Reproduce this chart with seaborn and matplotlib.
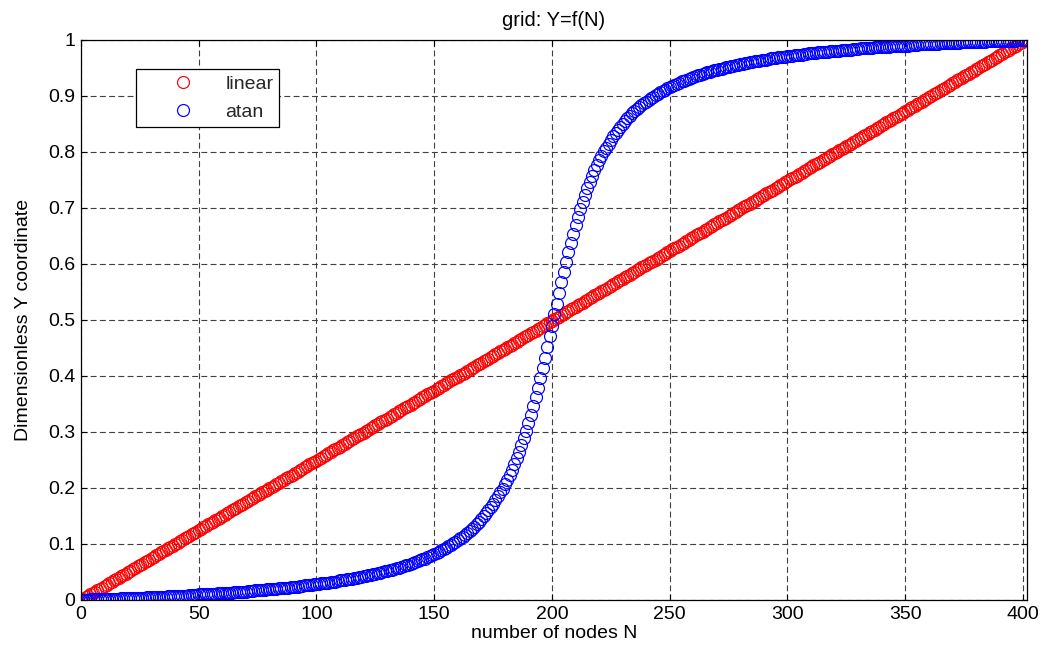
import numpy as np
import matplotlib
matplotlib.use("Agg")
import matplotlib.pyplot as plt
import seaborn as sns

# Dimensionless Y coordinate of each grid node, in thousandths (node index N = 0 .. 401)
linear_y_milli = [
    0, 2, 5, 7, 10, 12, 15, 17, 20, 22, 25, 27, 30, 32, 35, 37, 40, 42, 45, 47,
    50, 52, 55, 57, 60, 62, 65, 67, 70, 72, 75, 77, 80, 82, 85, 87, 90, 92, 95, 97,
    100, 102, 105, 107, 110, 112, 115, 117, 120, 122, 125, 127, 130, 132, 135, 137, 140, 142, 145, 147,
    150, 152, 155, 157, 160, 162, 165, 167, 170, 172, 175, 177, 180, 182, 185, 187, 190, 192, 195, 197,
    200, 202, 204, 207, 209, 212, 214, 217, 219, 222, 224, 227, 229, 232, 234, 237, 239, 242, 244, 247,
    249, 252, 254, 257, 259, 262, 264, 267, 269, 272, 274, 277, 279, 282, 284, 287, 289, 292, 294, 297,
    299, 302, 304, 307, 309, 312, 314, 317, 319, 322, 324, 327, 329, 332, 334, 337, 339, 342, 344, 347,
    349, 352, 354, 357, 359, 362, 364, 367, 369, 372, 374, 377, 379, 382, 384, 387, 389, 392, 394, 397,
    399, 401, 404, 406, 409, 411, 414, 416, 419, 421, 424, 426, 429, 431, 434, 436, 439, 441, 444, 446,
    449, 451, 454, 456, 459, 461, 464, 466, 469, 471, 474, 476, 479, 481, 484, 486, 489, 491, 494, 496,
    499, 501, 504, 506, 509, 511, 514, 516, 519, 521, 524, 526, 529, 531, 534, 536, 539, 541, 544, 546,
    549, 551, 554, 556, 559, 561, 564, 566, 569, 571, 574, 576, 579, 581, 584, 586, 589, 591, 594, 596,
    599, 601, 603, 606, 608, 611, 613, 616, 618, 621, 623, 626, 628, 631, 633, 636, 638, 641, 643, 646,
    648, 651, 653, 656, 658, 661, 663, 666, 668, 671, 673, 676, 678, 681, 683, 686, 688, 691, 693, 696,
    698, 701, 703, 706, 708, 711, 713, 716, 718, 721, 723, 726, 728, 731, 733, 736, 738, 741, 743, 746,
    748, 751, 753, 756, 758, 761, 763, 766, 768, 771, 773, 776, 778, 781, 783, 786, 788, 791, 793, 796,
    798, 800, 803, 805, 808, 810, 813, 815, 818, 820, 823, 825, 828, 830, 833, 835, 838, 840, 843, 845,
    848, 850, 853, 855, 858, 860, 863, 865, 868, 870, 873, 875, 878, 880, 883, 885, 888, 890, 893, 895,
    898, 900, 903, 905, 908, 910, 913, 915, 918, 920, 923, 925, 928, 930, 933, 935, 938, 940, 943, 945,
    948, 950, 953, 955, 958, 960, 963, 965, 968, 970, 973, 975, 978, 980, 983, 985, 988, 990, 993, 995,
    998, 1000,
]

atan_y_milli = [
    0, 0, 0, 0, 1, 1, 1, 1, 1, 1, 2, 2, 2, 2, 2, 2, 2, 3, 3, 3,
    3, 3, 4, 4, 4, 4, 4, 4, 5, 5, 5, 5, 5, 6, 6, 6, 6, 7, 7, 7,
    7, 7, 8, 8, 8, 8, 9, 9, 9, 9, 10, 10, 10, 10, 11, 11, 11, 11, 12, 12,
    12, 13, 13, 13, 13, 14, 14, 14, 15, 15, 15, 16, 16, 16, 17, 17, 17, 18, 18, 19,
    19, 19, 20, 20, 21, 21, 21, 22, 22, 23, 23, 24, 24, 25, 25, 26, 26, 27, 27, 28,
    28, 29, 30, 30, 31, 31, 32, 33, 33, 34, 35, 35, 36, 37, 37, 38, 39, 40, 41, 41,
    42, 43, 44, 45, 46, 47, 48, 49, 50, 51, 52, 53, 54, 55, 57, 58, 59, 61, 62, 63,
    65, 66, 68, 69, 71, 73, 74, 76, 78, 80, 82, 84, 86, 89, 91, 93, 96, 98, 101, 104,
    107, 110, 113, 116, 120, 124, 127, 131, 136, 140, 145, 150, 155, 160, 166, 172, 178, 185, 192, 199,
    207, 215, 224, 233, 243, 254, 265, 277, 289, 302, 316, 331, 346, 362, 379, 396, 414, 433, 452, 471,
    490, 510, 529, 548, 567, 586, 604, 621, 638, 654, 669, 684, 698, 711, 723, 735, 746, 757, 767, 776,
    785, 793, 801, 808, 815, 822, 828, 834, 840, 845, 850, 855, 860, 864, 869, 873, 876, 880, 884, 887,
    890, 893, 896, 899, 902, 904, 907, 909, 911, 914, 916, 918, 920, 922, 924, 926, 927, 929, 931, 932,
    934, 935, 937, 938, 939, 941, 942, 943, 945, 946, 947, 948, 949, 950, 951, 952, 953, 954, 955, 956,
    957, 958, 959, 959, 960, 961, 962, 963, 963, 964, 965, 965, 966, 967, 967, 968, 969, 969, 970, 970,
    971, 972, 972, 973, 973, 974, 974, 975, 975, 976, 976, 977, 977, 978, 978, 979, 979, 979, 980, 980,
    981, 981, 981, 982, 982, 983, 983, 983, 984, 984, 984, 985, 985, 985, 986, 986, 986, 987, 987, 987,
    987, 988, 988, 988, 989, 989, 989, 989, 990, 990, 990, 990, 991, 991, 991, 991, 992, 992, 992, 992,
    993, 993, 993, 993, 993, 994, 994, 994, 994, 995, 995, 995, 995, 995, 996, 996, 996, 996, 996, 996,
    997, 997, 997, 997, 997, 998, 998, 998, 998, 998, 998, 998, 999, 999, 999, 999, 999, 999, 1000, 1000,
    1000, 1000,
]

series_names = ["linear", "atan"]
series_colors = ["red", "blue"]
x_ticks = [0, 50, 100, 150, 200, 250, 300, 350, 400]
y_ticks = [0, 0.1, 0.2, 0.3, 0.4, 0.5, 0.6, 0.7, 0.8, 0.9, 1]
y_tick_labels = ["0", "0.1", "0.2", "0.3", "0.4", "0.5", "0.6", "0.7", "0.8", "0.9", "1"]

linear_y = np.array(linear_y_milli) / 1000.0
atan_y = np.array(atan_y_milli) / 1000.0
nodes = np.arange(len(linear_y))

sns.set_style("ticks")
plt.rcParams['font.family'] = ['Liberation Sans', 'DejaVu Sans']
FS = 14

fig = plt.figure(figsize=(10.45, 6.47), dpi=100)
ax = fig.add_axes([81/1045, 1-600/647, (1027-81)/1045, 560/647])

for y, c, lab in zip([linear_y, atan_y], series_colors, series_names):
    sns.lineplot(x=nodes, y=y, color=c, marker="o", markerfacecolor="none",
                 markeredgecolor=c, linestyle="none", markersize=8.6,
                 markeredgewidth=0.85, sort=False, ax=ax, label=lab)

ax.set_xlim(0, 401.7)
ax.set_ylim(0, 1)
ax.set_xticks(x_ticks)
ax.set_yticks(y_ticks)
ax.set_yticklabels(y_tick_labels)
ax.grid(True, color="0.25", linestyle=(0, (5.3, 3)), linewidth=0.8)
ax.tick_params(direction="in", top=True, right=True, labelsize=FS, length=4,
               color="black", labelcolor="black", pad=4)
for sp in ax.spines.values():
    sp.set_color("black")
    sp.set_linewidth(0.9)

ax.set_xlabel("number of nodes N", fontsize=FS, color="black", labelpad=2)
ax.set_ylabel("Dimensionless Y coordinate", fontsize=FS, color="black")
ax.yaxis.set_label_coords(-0.052, 0.5)
ax.set_title("grid: Y=f(N)", fontsize=14.5, color="black", pad=10)

leg = ax.legend(loc="upper left", bbox_to_anchor=(0.0581, 0.948), borderaxespad=0,
                fancybox=False, edgecolor="black", framealpha=1, fontsize=FS,
                handlelength=4.2, handletextpad=0.1, borderpad=0.3, labelspacing=0.55)
leg.get_frame().set_linewidth(0.9)

fig.savefig("out.png", dpi=100)
